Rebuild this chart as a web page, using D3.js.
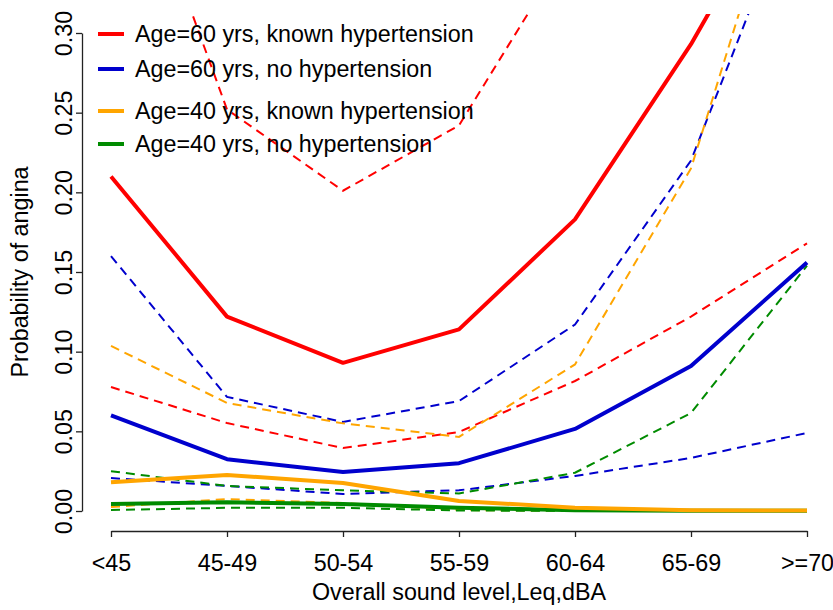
<!DOCTYPE html>
<html>
<head>
<meta charset="utf-8">
<script src="https://cdn.jsdelivr.net/npm/d3@7"></script>
<style>
  body { margin: 0; background: #fff; }
  svg { font-family: "Liberation Sans", Arial, sans-serif; }
</style>
</head>
<body>
<svg id="chart" width="833" height="610"></svg>
<script>
// categories of overall sound level
const categories = ['<45', '45-49', '50-54', '55-59', '60-64', '65-69', '>=70'];
const yTicks = [0, 0.05, 0.1, 0.15, 0.2, 0.25, 0.3];

// point estimates
const age60Known = [0.210, 0.122, 0.093, 0.114, 0.183, 0.293, 0.420];
const age60None = [0.060, 0.0325, 0.0245, 0.030, 0.0515, 0.091, 0.156];
const age40Known = [0.018, 0.0226, 0.0176, 0.0063, 0.002, 0.0005, 0.0003];
const age40None = [0.0044, 0.0055, 0.0044, 0.002, 0.0005, 0.0002, 0.0001];

// confidence limits (upper / lower)
const age60KnownUp = [0.452, 0.252, 0.201, 0.242, 0.360, 0.560, 0.700];
const age60KnownLo = [0.0778, 0.0552, 0.0395, 0.0496, 0.0816, 0.122, 0.168];
const age60NoneUp = [0.160, 0.0716, 0.0559, 0.069, 0.117, 0.220, 0.406];
const age60NoneLo = [0.0207, 0.0157, 0.0107, 0.013, 0.022, 0.0333, 0.049];
const age40KnownUp = [0.1036, 0.0678, 0.055, 0.0465, 0.092, 0.215, 0.450];
const age40KnownLo = [0.0025, 0.0075, 0.005, 0.0006, 0.0002, 0.0001, 0.0001];
const age40NoneUp = [0.025, 0.0157, 0.013, 0.011, 0.024, 0.0615, 0.154];
const age40NoneLo = [0.0006, 0.002, 0.002, 0.0003, 0.0001, 0.0001, 0.0001];

const series = [
  { label: 'Age=60 yrs, known hypertension', colour: '#ff0000', est: age60Known, up: age60KnownUp, lo: age60KnownLo },
  { label: 'Age=60 yrs, no hypertension', colour: '#0000cd', est: age60None, up: age60NoneUp, lo: age60NoneLo },
  { label: 'Age=40 yrs, known hypertension', colour: '#ffa500', est: age40Known, up: age40KnownUp, lo: age40KnownLo },
  { label: 'Age=40 yrs, no hypertension', colour: '#008b00', est: age40None, up: age40NoneUp, lo: age40NoneLo },
];

const svg = d3.select('#chart');
const fontSize = 23.3;

const x = d3.scalePoint().domain(categories).range([111, 807]);
const y = d3.scaleLinear().domain([0, 0.3]).range([511, 33]);

// plot region clip (R extends the axes by 4%)
svg.append('defs').append('clipPath').attr('id', 'plotClip')
  .append('rect').attr('x', 83).attr('y', 14).attr('width', 760).attr('height', 517);

const line = d3.line()
  .x((d, i) => x(categories[i]))
  .y(d => y(d));

const plot = svg.append('g').attr('clip-path', 'url(#plotClip)');

// dashed confidence limits first
series.forEach(s => {
  [s.up, s.lo].forEach(vals => {
    plot.append('path')
      .attr('d', line(vals))
      .attr('fill', 'none')
      .attr('stroke', s.colour)
      .attr('stroke-width', 2)
      .attr('stroke-dasharray', '9,6');
  });
});

// solid estimates on top (green before orange)
[0, 1, 3, 2].forEach(k => {
  const s = series[k];
  plot.append('path')
    .attr('d', line(s.est))
    .attr('fill', 'none')
    .attr('stroke', s.colour)
    .attr('stroke-width', 4)
    .attr('stroke-linejoin', 'round');
});

// y axis
const yAxis = svg.append('g')
  .attr('transform', 'translate(82,0)')
  .call(d3.axisLeft(y).tickValues(yTicks).tickFormat(d3.format('.2f')).tickSize(6).tickSizeOuter(0));
yAxis.attr('font-family', null);
yAxis.selectAll('path, line').attr('stroke', '#222').attr('stroke-width', 1.3);
yAxis.selectAll('text')
  .attr('transform', 'rotate(-90)')
  .attr('x', 0).attr('y', -10).attr('dy', 0)
  .attr('text-anchor', 'middle')
  .style('font-size', fontSize + 'px')
  .attr('fill', '#000');

// x axis
const xAxis = svg.append('g')
  .attr('transform', 'translate(0,531)')
  .call(d3.axisBottom(x).tickSize(6).tickSizeOuter(0));
xAxis.attr('font-family', null);
xAxis.selectAll('path, line').attr('stroke', '#222').attr('stroke-width', 1.3);
xAxis.selectAll('text')
  .attr('y', 40).attr('dy', 0)
  .style('font-size', fontSize + 'px')
  .attr('fill', '#000');

// axis titles
svg.append('text')
  .attr('x', 459).attr('y', 600)
  .attr('text-anchor', 'middle')
  .style('font-size', fontSize + 'px')
  .text('Overall sound level,Leq,dBA');

svg.append('text')
  .attr('transform', 'translate(28,272) rotate(-90)')
  .attr('text-anchor', 'middle')
  .style('font-size', fontSize + 'px')
  .text('Probability of angina');

// legend
const legendRows = [34, 69, 111, 144];
const legend = svg.append('g');
series.forEach((s, i) => {
  legend.append('line')
    .attr('x1', 98).attr('x2', 124)
    .attr('y1', legendRows[i]).attr('y2', legendRows[i])
    .attr('stroke', s.colour)
    .attr('stroke-width', 4);
  legend.append('text')
    .attr('x', 135).attr('y', legendRows[i] + 8)
    .style('font-size', fontSize + 'px')
    .text(s.label);
});
</script>
</body>
</html>
